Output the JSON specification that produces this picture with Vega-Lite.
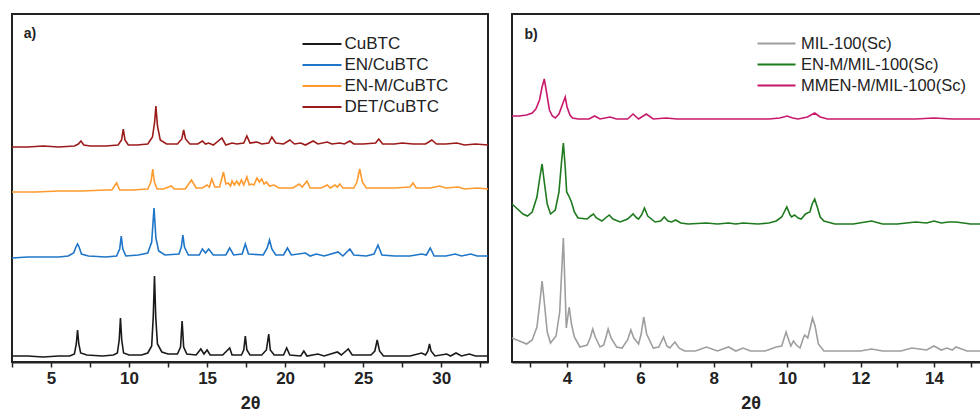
{
  "$schema": "https://vega.github.io/schema/vega-lite/v6.json",
  "padding": {"left": 10, "top": 13, "right": 0, "bottom": 0},
  "config": {
    "font": "Liberation Sans",
    "view": {"stroke": "#222", "strokeWidth": 2},
    "concat": {"spacing": 22},
    "axis": {"grid": false, "domainColor": "#222", "domainWidth": 2, "tickColor": "#222", "tickWidth": 1.5, "tickSize": 5, "labelFont": "Liberation Sans", "labelFontWeight": "bold", "labelFontSize": 17, "labelColor": "#222", "labelPadding": 3, "titleFont": "Liberation Sans", "titleFontWeight": "bold", "titleFontSize": 18, "titleColor": "#222", "titlePadding": 8},
    "legend": {"orient": "none", "padding": 0, "symbolType": "M-2,0H2", "symbolStrokeWidth": 2, "labelFont": "Liberation Sans", "labelColor": "#222", "rowPadding": 2, "labelLimit": 300}
  },
  "datasets": {
    "a": [
      {"s":"CuBTC","x":2.5,"y":6},{"s":"CuBTC","x":3.5,"y":6},{"s":"CuBTC","x":4.5,"y":5},{"s":"CuBTC","x":5.5,"y":6},{"s":"CuBTC","x":6.2,"y":6},{"s":"CuBTC","x":6.5,"y":8},{"s":"CuBTC","x":6.62,"y":18},{"s":"CuBTC","x":6.7,"y":32},{"s":"CuBTC","x":6.78,"y":18},{"s":"CuBTC","x":6.9,"y":9},{"s":"CuBTC","x":7.3,"y":7},{"s":"CuBTC","x":8.3,"y":6},{"s":"CuBTC","x":9.0,"y":7},{"s":"CuBTC","x":9.25,"y":9},{"s":"CuBTC","x":9.37,"y":22},{"s":"CuBTC","x":9.45,"y":44},{"s":"CuBTC","x":9.53,"y":22},{"s":"CuBTC","x":9.65,"y":9},{"s":"CuBTC","x":10.0,"y":7},{"s":"CuBTC","x":10.8,"y":7},{"s":"CuBTC","x":11.2,"y":9},{"s":"CuBTC","x":11.45,"y":16},{"s":"CuBTC","x":11.55,"y":45},{"s":"CuBTC","x":11.63,"y":86},{"s":"CuBTC","x":11.71,"y":45},{"s":"CuBTC","x":11.82,"y":18},{"s":"CuBTC","x":12.1,"y":10},{"s":"CuBTC","x":12.5,"y":8},{"s":"CuBTC","x":13.1,"y":8},{"s":"CuBTC","x":13.3,"y":15},{"s":"CuBTC","x":13.4,"y":41},{"s":"CuBTC","x":13.5,"y":15},{"s":"CuBTC","x":13.7,"y":8},{"s":"CuBTC","x":14.3,"y":7},{"s":"CuBTC","x":14.6,"y":13},{"s":"CuBTC","x":14.8,"y":8},{"s":"CuBTC","x":15.0,"y":12},{"s":"CuBTC","x":15.2,"y":7},{"s":"CuBTC","x":16.0,"y":7},{"s":"CuBTC","x":16.45,"y":14},{"s":"CuBTC","x":16.6,"y":7},{"s":"CuBTC","x":17.2,"y":7},{"s":"CuBTC","x":17.35,"y":12},{"s":"CuBTC","x":17.45,"y":26},{"s":"CuBTC","x":17.55,"y":12},{"s":"CuBTC","x":17.75,"y":7},{"s":"CuBTC","x":18.5,"y":7},{"s":"CuBTC","x":18.8,"y":12},{"s":"CuBTC","x":18.95,"y":28},{"s":"CuBTC","x":19.05,"y":12},{"s":"CuBTC","x":19.3,"y":7},{"s":"CuBTC","x":19.9,"y":7},{"s":"CuBTC","x":20.1,"y":14},{"s":"CuBTC","x":20.3,"y":7},{"s":"CuBTC","x":21.0,"y":6},{"s":"CuBTC","x":21.2,"y":11},{"s":"CuBTC","x":21.4,"y":6},{"s":"CuBTC","x":22.1,"y":8},{"s":"CuBTC","x":22.5,"y":6},{"s":"CuBTC","x":23.35,"y":10},{"s":"CuBTC","x":23.6,"y":7},{"s":"CuBTC","x":24.05,"y":13},{"s":"CuBTC","x":24.3,"y":7},{"s":"CuBTC","x":25.0,"y":7},{"s":"CuBTC","x":25.5,"y":7},{"s":"CuBTC","x":25.75,"y":11},{"s":"CuBTC","x":25.9,"y":22},{"s":"CuBTC","x":26.05,"y":11},{"s":"CuBTC","x":26.3,"y":6},{"s":"CuBTC","x":27.0,"y":6},{"s":"CuBTC","x":28.0,"y":6},{"s":"CuBTC","x":28.75,"y":9},{"s":"CuBTC","x":29.0,"y":7},{"s":"CuBTC","x":29.15,"y":11},{"s":"CuBTC","x":29.25,"y":18},{"s":"CuBTC","x":29.35,"y":11},{"s":"CuBTC","x":29.6,"y":6},{"s":"CuBTC","x":30.35,"y":8},{"s":"CuBTC","x":30.6,"y":6},{"s":"CuBTC","x":30.95,"y":9},{"s":"CuBTC","x":31.3,"y":6},{"s":"CuBTC","x":31.8,"y":8},{"s":"CuBTC","x":32.2,"y":6},{"s":"CuBTC","x":33,"y":6},

      {"s":"EN/CuBTC","x":2.5,"y":104},{"s":"EN/CuBTC","x":3.5,"y":105},{"s":"EN/CuBTC","x":4.5,"y":105},{"s":"EN/CuBTC","x":5.5,"y":105},{"s":"EN/CuBTC","x":6.1,"y":106},{"s":"EN/CuBTC","x":6.45,"y":109},{"s":"EN/CuBTC","x":6.6,"y":115},{"s":"EN/CuBTC","x":6.7,"y":118},{"s":"EN/CuBTC","x":6.8,"y":115},{"s":"EN/CuBTC","x":6.95,"y":108},{"s":"EN/CuBTC","x":7.4,"y":106},{"s":"EN/CuBTC","x":8.5,"y":105},{"s":"EN/CuBTC","x":9.2,"y":106},{"s":"EN/CuBTC","x":9.4,"y":113},{"s":"EN/CuBTC","x":9.5,"y":126},{"s":"EN/CuBTC","x":9.6,"y":113},{"s":"EN/CuBTC","x":9.8,"y":106},{"s":"EN/CuBTC","x":10.6,"y":107},{"s":"EN/CuBTC","x":11.2,"y":109},{"s":"EN/CuBTC","x":11.45,"y":120},{"s":"EN/CuBTC","x":11.6,"y":154},{"s":"EN/CuBTC","x":11.72,"y":124},{"s":"EN/CuBTC","x":11.9,"y":111},{"s":"EN/CuBTC","x":12.3,"y":107},{"s":"EN/CuBTC","x":13.2,"y":108},{"s":"EN/CuBTC","x":13.35,"y":115},{"s":"EN/CuBTC","x":13.45,"y":127},{"s":"EN/CuBTC","x":13.55,"y":115},{"s":"EN/CuBTC","x":13.8,"y":107},{"s":"EN/CuBTC","x":14.5,"y":107},{"s":"EN/CuBTC","x":14.7,"y":113},{"s":"EN/CuBTC","x":14.9,"y":109},{"s":"EN/CuBTC","x":15.1,"y":113},{"s":"EN/CuBTC","x":15.4,"y":107},{"s":"EN/CuBTC","x":16.2,"y":107},{"s":"EN/CuBTC","x":16.45,"y":114},{"s":"EN/CuBTC","x":16.7,"y":107},{"s":"EN/CuBTC","x":17.25,"y":108},{"s":"EN/CuBTC","x":17.45,"y":118},{"s":"EN/CuBTC","x":17.65,"y":108},{"s":"EN/CuBTC","x":18.6,"y":107},{"s":"EN/CuBTC","x":18.85,"y":114},{"s":"EN/CuBTC","x":19.0,"y":122},{"s":"EN/CuBTC","x":19.15,"y":113},{"s":"EN/CuBTC","x":19.4,"y":107},{"s":"EN/CuBTC","x":19.9,"y":107},{"s":"EN/CuBTC","x":20.15,"y":114},{"s":"EN/CuBTC","x":20.4,"y":107},{"s":"EN/CuBTC","x":21.3,"y":109},{"s":"EN/CuBTC","x":21.6,"y":106},{"s":"EN/CuBTC","x":22.0,"y":108},{"s":"EN/CuBTC","x":22.5,"y":106},{"s":"EN/CuBTC","x":23.4,"y":110},{"s":"EN/CuBTC","x":23.7,"y":106},{"s":"EN/CuBTC","x":24.15,"y":113},{"s":"EN/CuBTC","x":24.4,"y":107},{"s":"EN/CuBTC","x":25.2,"y":106},{"s":"EN/CuBTC","x":25.7,"y":108},{"s":"EN/CuBTC","x":25.95,"y":117},{"s":"EN/CuBTC","x":26.2,"y":107},{"s":"EN/CuBTC","x":27.0,"y":106},{"s":"EN/CuBTC","x":28.0,"y":106},{"s":"EN/CuBTC","x":28.75,"y":108},{"s":"EN/CuBTC","x":29.05,"y":107},{"s":"EN/CuBTC","x":29.3,"y":114},{"s":"EN/CuBTC","x":29.55,"y":106},{"s":"EN/CuBTC","x":30.3,"y":106},{"s":"EN/CuBTC","x":30.9,"y":108},{"s":"EN/CuBTC","x":31.3,"y":106},{"s":"EN/CuBTC","x":31.9,"y":108},{"s":"EN/CuBTC","x":32.3,"y":106},{"s":"EN/CuBTC","x":33,"y":106},

      {"s":"EN-M/CuBTC","x":2.5,"y":170},{"s":"EN-M/CuBTC","x":4,"y":170},{"s":"EN-M/CuBTC","x":5.5,"y":171},{"s":"EN-M/CuBTC","x":7,"y":171},{"s":"EN-M/CuBTC","x":8.5,"y":172},{"s":"EN-M/CuBTC","x":8.9,"y":172},{"s":"EN-M/CuBTC","x":9.2,"y":179},{"s":"EN-M/CuBTC","x":9.4,"y":172},{"s":"EN-M/CuBTC","x":10.2,"y":172},{"s":"EN-M/CuBTC","x":11.2,"y":173},{"s":"EN-M/CuBTC","x":11.4,"y":180},{"s":"EN-M/CuBTC","x":11.52,"y":193},{"s":"EN-M/CuBTC","x":11.62,"y":180},{"s":"EN-M/CuBTC","x":11.8,"y":173},{"s":"EN-M/CuBTC","x":12.2,"y":173},{"s":"EN-M/CuBTC","x":12.7,"y":176},{"s":"EN-M/CuBTC","x":12.9,"y":173},{"s":"EN-M/CuBTC","x":13.6,"y":173},{"s":"EN-M/CuBTC","x":14.0,"y":182},{"s":"EN-M/CuBTC","x":14.3,"y":174},{"s":"EN-M/CuBTC","x":14.7,"y":174},{"s":"EN-M/CuBTC","x":15.0,"y":177},{"s":"EN-M/CuBTC","x":15.15,"y":175},{"s":"EN-M/CuBTC","x":15.3,"y":183},{"s":"EN-M/CuBTC","x":15.5,"y":175},{"s":"EN-M/CuBTC","x":15.8,"y":175},{"s":"EN-M/CuBTC","x":16.05,"y":190},{"s":"EN-M/CuBTC","x":16.2,"y":178},{"s":"EN-M/CuBTC","x":16.35,"y":179},{"s":"EN-M/CuBTC","x":16.5,"y":176},{"s":"EN-M/CuBTC","x":16.6,"y":181},{"s":"EN-M/CuBTC","x":16.75,"y":177},{"s":"EN-M/CuBTC","x":16.9,"y":181},{"s":"EN-M/CuBTC","x":17.05,"y":177},{"s":"EN-M/CuBTC","x":17.2,"y":182},{"s":"EN-M/CuBTC","x":17.35,"y":177},{"s":"EN-M/CuBTC","x":17.55,"y":185},{"s":"EN-M/CuBTC","x":17.7,"y":177},{"s":"EN-M/CuBTC","x":17.85,"y":178},{"s":"EN-M/CuBTC","x":18.0,"y":177},{"s":"EN-M/CuBTC","x":18.2,"y":184},{"s":"EN-M/CuBTC","x":18.35,"y":180},{"s":"EN-M/CuBTC","x":18.5,"y":183},{"s":"EN-M/CuBTC","x":18.65,"y":178},{"s":"EN-M/CuBTC","x":18.8,"y":180},{"s":"EN-M/CuBTC","x":19.0,"y":176},{"s":"EN-M/CuBTC","x":19.3,"y":177},{"s":"EN-M/CuBTC","x":19.6,"y":174},{"s":"EN-M/CuBTC","x":20.5,"y":174},{"s":"EN-M/CuBTC","x":20.9,"y":178},{"s":"EN-M/CuBTC","x":21.1,"y":175},{"s":"EN-M/CuBTC","x":21.4,"y":181},{"s":"EN-M/CuBTC","x":21.6,"y":174},{"s":"EN-M/CuBTC","x":22.3,"y":174},{"s":"EN-M/CuBTC","x":22.7,"y":177},{"s":"EN-M/CuBTC","x":22.9,"y":174},{"s":"EN-M/CuBTC","x":23.2,"y":177},{"s":"EN-M/CuBTC","x":23.35,"y":175},{"s":"EN-M/CuBTC","x":23.5,"y":178},{"s":"EN-M/CuBTC","x":23.7,"y":174},{"s":"EN-M/CuBTC","x":24.4,"y":174},{"s":"EN-M/CuBTC","x":24.6,"y":180},{"s":"EN-M/CuBTC","x":24.78,"y":193},{"s":"EN-M/CuBTC","x":24.95,"y":180},{"s":"EN-M/CuBTC","x":25.2,"y":174},{"s":"EN-M/CuBTC","x":26.0,"y":174},{"s":"EN-M/CuBTC","x":27.0,"y":174},{"s":"EN-M/CuBTC","x":28.0,"y":175},{"s":"EN-M/CuBTC","x":28.2,"y":179},{"s":"EN-M/CuBTC","x":28.4,"y":174},{"s":"EN-M/CuBTC","x":29.3,"y":174},{"s":"EN-M/CuBTC","x":29.9,"y":176},{"s":"EN-M/CuBTC","x":30.3,"y":174},{"s":"EN-M/CuBTC","x":31.1,"y":175},{"s":"EN-M/CuBTC","x":31.5,"y":173},{"s":"EN-M/CuBTC","x":32.3,"y":174},{"s":"EN-M/CuBTC","x":33,"y":173},

      {"s":"DET/CuBTC","x":2.5,"y":215},{"s":"DET/CuBTC","x":3.5,"y":215},{"s":"DET/CuBTC","x":4.5,"y":216},{"s":"DET/CuBTC","x":5.5,"y":215},{"s":"DET/CuBTC","x":6.5,"y":216},{"s":"DET/CuBTC","x":6.75,"y":218},{"s":"DET/CuBTC","x":6.92,"y":221},{"s":"DET/CuBTC","x":7.1,"y":217},{"s":"DET/CuBTC","x":7.5,"y":216},{"s":"DET/CuBTC","x":8.5,"y":216},{"s":"DET/CuBTC","x":9.3,"y":217},{"s":"DET/CuBTC","x":9.52,"y":222},{"s":"DET/CuBTC","x":9.63,"y":233},{"s":"DET/CuBTC","x":9.74,"y":222},{"s":"DET/CuBTC","x":9.95,"y":217},{"s":"DET/CuBTC","x":10.5,"y":217},{"s":"DET/CuBTC","x":11.2,"y":218},{"s":"DET/CuBTC","x":11.5,"y":225},{"s":"DET/CuBTC","x":11.64,"y":240},{"s":"DET/CuBTC","x":11.72,"y":256},{"s":"DET/CuBTC","x":11.82,"y":236},{"s":"DET/CuBTC","x":12.0,"y":222},{"s":"DET/CuBTC","x":12.4,"y":218},{"s":"DET/CuBTC","x":13.1,"y":218},{"s":"DET/CuBTC","x":13.38,"y":223},{"s":"DET/CuBTC","x":13.5,"y":232},{"s":"DET/CuBTC","x":13.62,"y":223},{"s":"DET/CuBTC","x":13.9,"y":218},{"s":"DET/CuBTC","x":14.4,"y":218},{"s":"DET/CuBTC","x":14.7,"y":221},{"s":"DET/CuBTC","x":14.9,"y":218},{"s":"DET/CuBTC","x":15.1,"y":219},{"s":"DET/CuBTC","x":15.4,"y":217},{"s":"DET/CuBTC","x":15.95,"y":224},{"s":"DET/CuBTC","x":16.2,"y":217},{"s":"DET/CuBTC","x":16.6,"y":219},{"s":"DET/CuBTC","x":16.9,"y":218},{"s":"DET/CuBTC","x":17.35,"y":219},{"s":"DET/CuBTC","x":17.55,"y":226},{"s":"DET/CuBTC","x":17.75,"y":219},{"s":"DET/CuBTC","x":18.2,"y":220},{"s":"DET/CuBTC","x":18.5,"y":218},{"s":"DET/CuBTC","x":18.95,"y":219},{"s":"DET/CuBTC","x":19.15,"y":225},{"s":"DET/CuBTC","x":19.4,"y":219},{"s":"DET/CuBTC","x":19.9,"y":218},{"s":"DET/CuBTC","x":20.3,"y":222},{"s":"DET/CuBTC","x":20.6,"y":218},{"s":"DET/CuBTC","x":21.0,"y":219},{"s":"DET/CuBTC","x":21.3,"y":217},{"s":"DET/CuBTC","x":21.8,"y":221},{"s":"DET/CuBTC","x":22.1,"y":218},{"s":"DET/CuBTC","x":22.7,"y":220},{"s":"DET/CuBTC","x":23.0,"y":218},{"s":"DET/CuBTC","x":23.5,"y":219},{"s":"DET/CuBTC","x":23.8,"y":218},{"s":"DET/CuBTC","x":24.15,"y":221},{"s":"DET/CuBTC","x":24.4,"y":218},{"s":"DET/CuBTC","x":25.0,"y":218},{"s":"DET/CuBTC","x":25.8,"y":219},{"s":"DET/CuBTC","x":26.0,"y":223},{"s":"DET/CuBTC","x":26.25,"y":218},{"s":"DET/CuBTC","x":27.0,"y":218},{"s":"DET/CuBTC","x":27.5,"y":219},{"s":"DET/CuBTC","x":28.2,"y":218},{"s":"DET/CuBTC","x":29.0,"y":218},{"s":"DET/CuBTC","x":29.4,"y":222},{"s":"DET/CuBTC","x":29.7,"y":218},{"s":"DET/CuBTC","x":30.3,"y":218},{"s":"DET/CuBTC","x":31.0,"y":219},{"s":"DET/CuBTC","x":31.5,"y":217},{"s":"DET/CuBTC","x":32.2,"y":218},{"s":"DET/CuBTC","x":33,"y":217}
    ],
    "b": [
      {"s":"MIL-100(Sc)","x":2.5,"y":24},{"s":"MIL-100(Sc)","x":2.7,"y":21},{"s":"MIL-100(Sc)","x":2.9,"y":18},{"s":"MIL-100(Sc)","x":3.05,"y":22},{"s":"MIL-100(Sc)","x":3.18,"y":35},{"s":"MIL-100(Sc)","x":3.26,"y":60},{"s":"MIL-100(Sc)","x":3.32,"y":81},{"s":"MIL-100(Sc)","x":3.38,"y":60},{"s":"MIL-100(Sc)","x":3.46,"y":30},{"s":"MIL-100(Sc)","x":3.55,"y":19},{"s":"MIL-100(Sc)","x":3.7,"y":26},{"s":"MIL-100(Sc)","x":3.8,"y":50},{"s":"MIL-100(Sc)","x":3.86,"y":95},{"s":"MIL-100(Sc)","x":3.9,"y":124},{"s":"MIL-100(Sc)","x":3.94,"y":80},{"s":"MIL-100(Sc)","x":3.98,"y":34},{"s":"MIL-100(Sc)","x":4.02,"y":45},{"s":"MIL-100(Sc)","x":4.06,"y":55},{"s":"MIL-100(Sc)","x":4.12,"y":38},{"s":"MIL-100(Sc)","x":4.2,"y":25},{"s":"MIL-100(Sc)","x":4.35,"y":15},{"s":"MIL-100(Sc)","x":4.55,"y":17},{"s":"MIL-100(Sc)","x":4.64,"y":25},{"s":"MIL-100(Sc)","x":4.7,"y":33},{"s":"MIL-100(Sc)","x":4.77,"y":25},{"s":"MIL-100(Sc)","x":4.9,"y":15},{"s":"MIL-100(Sc)","x":5.0,"y":17},{"s":"MIL-100(Sc)","x":5.07,"y":26},{"s":"MIL-100(Sc)","x":5.12,"y":33},{"s":"MIL-100(Sc)","x":5.2,"y":24},{"s":"MIL-100(Sc)","x":5.35,"y":15},{"s":"MIL-100(Sc)","x":5.5,"y":14},{"s":"MIL-100(Sc)","x":5.65,"y":22},{"s":"MIL-100(Sc)","x":5.74,"y":32},{"s":"MIL-100(Sc)","x":5.82,"y":24},{"s":"MIL-100(Sc)","x":5.95,"y":18},{"s":"MIL-100(Sc)","x":6.02,"y":28},{"s":"MIL-100(Sc)","x":6.09,"y":45},{"s":"MIL-100(Sc)","x":6.17,"y":28},{"s":"MIL-100(Sc)","x":6.35,"y":14},{"s":"MIL-100(Sc)","x":6.5,"y":15},{"s":"MIL-100(Sc)","x":6.63,"y":25},{"s":"MIL-100(Sc)","x":6.72,"y":16},{"s":"MIL-100(Sc)","x":6.8,"y":14},{"s":"MIL-100(Sc)","x":6.94,"y":20},{"s":"MIL-100(Sc)","x":7.05,"y":14},{"s":"MIL-100(Sc)","x":7.2,"y":11},{"s":"MIL-100(Sc)","x":7.5,"y":11},{"s":"MIL-100(Sc)","x":7.8,"y":15},{"s":"MIL-100(Sc)","x":8.1,"y":11},{"s":"MIL-100(Sc)","x":8.4,"y":15},{"s":"MIL-100(Sc)","x":8.6,"y":11},{"s":"MIL-100(Sc)","x":8.8,"y":14},{"s":"MIL-100(Sc)","x":9.0,"y":11},{"s":"MIL-100(Sc)","x":9.4,"y":11},{"s":"MIL-100(Sc)","x":9.7,"y":15},{"s":"MIL-100(Sc)","x":9.85,"y":16},{"s":"MIL-100(Sc)","x":9.97,"y":30},{"s":"MIL-100(Sc)","x":10.06,"y":20},{"s":"MIL-100(Sc)","x":10.1,"y":16},{"s":"MIL-100(Sc)","x":10.17,"y":21},{"s":"MIL-100(Sc)","x":10.25,"y":17},{"s":"MIL-100(Sc)","x":10.35,"y":14},{"s":"MIL-100(Sc)","x":10.45,"y":25},{"s":"MIL-100(Sc)","x":10.48,"y":27},{"s":"MIL-100(Sc)","x":10.56,"y":24},{"s":"MIL-100(Sc)","x":10.64,"y":36},{"s":"MIL-100(Sc)","x":10.69,"y":44},{"s":"MIL-100(Sc)","x":10.76,"y":36},{"s":"MIL-100(Sc)","x":10.85,"y":18},{"s":"MIL-100(Sc)","x":11.0,"y":11},{"s":"MIL-100(Sc)","x":11.5,"y":11},{"s":"MIL-100(Sc)","x":12.0,"y":11},{"s":"MIL-100(Sc)","x":12.3,"y":13},{"s":"MIL-100(Sc)","x":12.6,"y":11},{"s":"MIL-100(Sc)","x":13.1,"y":11},{"s":"MIL-100(Sc)","x":13.4,"y":14},{"s":"MIL-100(Sc)","x":13.6,"y":13},{"s":"MIL-100(Sc)","x":13.8,"y":12},{"s":"MIL-100(Sc)","x":14.0,"y":16},{"s":"MIL-100(Sc)","x":14.2,"y":12},{"s":"MIL-100(Sc)","x":14.35,"y":14},{"s":"MIL-100(Sc)","x":14.5,"y":12},{"s":"MIL-100(Sc)","x":14.6,"y":15},{"s":"MIL-100(Sc)","x":14.9,"y":11},{"s":"MIL-100(Sc)","x":15.5,"y":11},

      {"s":"EN-M/MIL-100(Sc)","x":2.5,"y":158},{"s":"EN-M/MIL-100(Sc)","x":2.65,"y":153},{"s":"EN-M/MIL-100(Sc)","x":2.8,"y":148},{"s":"EN-M/MIL-100(Sc)","x":2.92,"y":146},{"s":"EN-M/MIL-100(Sc)","x":3.05,"y":150},{"s":"EN-M/MIL-100(Sc)","x":3.18,"y":165},{"s":"EN-M/MIL-100(Sc)","x":3.26,"y":185},{"s":"EN-M/MIL-100(Sc)","x":3.32,"y":198},{"s":"EN-M/MIL-100(Sc)","x":3.38,"y":180},{"s":"EN-M/MIL-100(Sc)","x":3.46,"y":158},{"s":"EN-M/MIL-100(Sc)","x":3.55,"y":148},{"s":"EN-M/MIL-100(Sc)","x":3.68,"y":152},{"s":"EN-M/MIL-100(Sc)","x":3.78,"y":170},{"s":"EN-M/MIL-100(Sc)","x":3.85,"y":200},{"s":"EN-M/MIL-100(Sc)","x":3.9,"y":219},{"s":"EN-M/MIL-100(Sc)","x":3.95,"y":195},{"s":"EN-M/MIL-100(Sc)","x":3.99,"y":170},{"s":"EN-M/MIL-100(Sc)","x":4.05,"y":166},{"s":"EN-M/MIL-100(Sc)","x":4.12,"y":160},{"s":"EN-M/MIL-100(Sc)","x":4.2,"y":150},{"s":"EN-M/MIL-100(Sc)","x":4.3,"y":144},{"s":"EN-M/MIL-100(Sc)","x":4.55,"y":143},{"s":"EN-M/MIL-100(Sc)","x":4.64,"y":146},{"s":"EN-M/MIL-100(Sc)","x":4.72,"y":148},{"s":"EN-M/MIL-100(Sc)","x":4.8,"y":144},{"s":"EN-M/MIL-100(Sc)","x":4.95,"y":141},{"s":"EN-M/MIL-100(Sc)","x":5.05,"y":144},{"s":"EN-M/MIL-100(Sc)","x":5.15,"y":147},{"s":"EN-M/MIL-100(Sc)","x":5.25,"y":143},{"s":"EN-M/MIL-100(Sc)","x":5.45,"y":140},{"s":"EN-M/MIL-100(Sc)","x":5.65,"y":143},{"s":"EN-M/MIL-100(Sc)","x":5.8,"y":148},{"s":"EN-M/MIL-100(Sc)","x":5.9,"y":144},{"s":"EN-M/MIL-100(Sc)","x":5.95,"y":143},{"s":"EN-M/MIL-100(Sc)","x":6.03,"y":147},{"s":"EN-M/MIL-100(Sc)","x":6.11,"y":154},{"s":"EN-M/MIL-100(Sc)","x":6.2,"y":146},{"s":"EN-M/MIL-100(Sc)","x":6.4,"y":140},{"s":"EN-M/MIL-100(Sc)","x":6.55,"y":141},{"s":"EN-M/MIL-100(Sc)","x":6.65,"y":145},{"s":"EN-M/MIL-100(Sc)","x":6.75,"y":141},{"s":"EN-M/MIL-100(Sc)","x":6.85,"y":140},{"s":"EN-M/MIL-100(Sc)","x":6.96,"y":142},{"s":"EN-M/MIL-100(Sc)","x":7.1,"y":139},{"s":"EN-M/MIL-100(Sc)","x":7.3,"y":138},{"s":"EN-M/MIL-100(Sc)","x":7.8,"y":139},{"s":"EN-M/MIL-100(Sc)","x":8.1,"y":138},{"s":"EN-M/MIL-100(Sc)","x":8.4,"y":139},{"s":"EN-M/MIL-100(Sc)","x":8.6,"y":138},{"s":"EN-M/MIL-100(Sc)","x":8.8,"y":139},{"s":"EN-M/MIL-100(Sc)","x":9.2,"y":138},{"s":"EN-M/MIL-100(Sc)","x":9.5,"y":139},{"s":"EN-M/MIL-100(Sc)","x":9.7,"y":141},{"s":"EN-M/MIL-100(Sc)","x":9.85,"y":145},{"s":"EN-M/MIL-100(Sc)","x":9.99,"y":155},{"s":"EN-M/MIL-100(Sc)","x":10.08,"y":147},{"s":"EN-M/MIL-100(Sc)","x":10.12,"y":145},{"s":"EN-M/MIL-100(Sc)","x":10.2,"y":147},{"s":"EN-M/MIL-100(Sc)","x":10.3,"y":144},{"s":"EN-M/MIL-100(Sc)","x":10.38,"y":143},{"s":"EN-M/MIL-100(Sc)","x":10.5,"y":148},{"s":"EN-M/MIL-100(Sc)","x":10.55,"y":149},{"s":"EN-M/MIL-100(Sc)","x":10.62,"y":150},{"s":"EN-M/MIL-100(Sc)","x":10.68,"y":158},{"s":"EN-M/MIL-100(Sc)","x":10.75,"y":163},{"s":"EN-M/MIL-100(Sc)","x":10.82,"y":155},{"s":"EN-M/MIL-100(Sc)","x":10.9,"y":145},{"s":"EN-M/MIL-100(Sc)","x":11.0,"y":141},{"s":"EN-M/MIL-100(Sc)","x":11.3,"y":138},{"s":"EN-M/MIL-100(Sc)","x":11.8,"y":138},{"s":"EN-M/MIL-100(Sc)","x":12.3,"y":141},{"s":"EN-M/MIL-100(Sc)","x":12.6,"y":138},{"s":"EN-M/MIL-100(Sc)","x":13.0,"y":138},{"s":"EN-M/MIL-100(Sc)","x":13.5,"y":140},{"s":"EN-M/MIL-100(Sc)","x":13.8,"y":139},{"s":"EN-M/MIL-100(Sc)","x":14.0,"y":141},{"s":"EN-M/MIL-100(Sc)","x":14.2,"y":139},{"s":"EN-M/MIL-100(Sc)","x":14.4,"y":140},{"s":"EN-M/MIL-100(Sc)","x":14.6,"y":140},{"s":"EN-M/MIL-100(Sc)","x":15.0,"y":138},{"s":"EN-M/MIL-100(Sc)","x":15.5,"y":138},

      {"s":"MMEN-M/MIL-100(Sc)","x":2.5,"y":246},{"s":"MMEN-M/MIL-100(Sc)","x":2.7,"y":246},{"s":"MMEN-M/MIL-100(Sc)","x":2.9,"y":247},{"s":"MMEN-M/MIL-100(Sc)","x":3.05,"y":249},{"s":"MMEN-M/MIL-100(Sc)","x":3.15,"y":253},{"s":"MMEN-M/MIL-100(Sc)","x":3.25,"y":262},{"s":"MMEN-M/MIL-100(Sc)","x":3.32,"y":275},{"s":"MMEN-M/MIL-100(Sc)","x":3.38,"y":283},{"s":"MMEN-M/MIL-100(Sc)","x":3.44,"y":270},{"s":"MMEN-M/MIL-100(Sc)","x":3.52,"y":252},{"s":"MMEN-M/MIL-100(Sc)","x":3.6,"y":246},{"s":"MMEN-M/MIL-100(Sc)","x":3.68,"y":244},{"s":"MMEN-M/MIL-100(Sc)","x":3.78,"y":248},{"s":"MMEN-M/MIL-100(Sc)","x":3.86,"y":256},{"s":"MMEN-M/MIL-100(Sc)","x":3.95,"y":265},{"s":"MMEN-M/MIL-100(Sc)","x":4.0,"y":255},{"s":"MMEN-M/MIL-100(Sc)","x":4.08,"y":247},{"s":"MMEN-M/MIL-100(Sc)","x":4.15,"y":244},{"s":"MMEN-M/MIL-100(Sc)","x":4.3,"y":243},{"s":"MMEN-M/MIL-100(Sc)","x":4.6,"y":243},{"s":"MMEN-M/MIL-100(Sc)","x":4.75,"y":246},{"s":"MMEN-M/MIL-100(Sc)","x":4.9,"y":243},{"s":"MMEN-M/MIL-100(Sc)","x":5.17,"y":245},{"s":"MMEN-M/MIL-100(Sc)","x":5.35,"y":243},{"s":"MMEN-M/MIL-100(Sc)","x":5.65,"y":243},{"s":"MMEN-M/MIL-100(Sc)","x":5.8,"y":248},{"s":"MMEN-M/MIL-100(Sc)","x":5.95,"y":243},{"s":"MMEN-M/MIL-100(Sc)","x":6.16,"y":248},{"s":"MMEN-M/MIL-100(Sc)","x":6.35,"y":243},{"s":"MMEN-M/MIL-100(Sc)","x":6.7,"y":244},{"s":"MMEN-M/MIL-100(Sc)","x":7.0,"y":243},{"s":"MMEN-M/MIL-100(Sc)","x":7.5,"y":243},{"s":"MMEN-M/MIL-100(Sc)","x":8.0,"y":243},{"s":"MMEN-M/MIL-100(Sc)","x":8.5,"y":243},{"s":"MMEN-M/MIL-100(Sc)","x":9.0,"y":243},{"s":"MMEN-M/MIL-100(Sc)","x":9.5,"y":243},{"s":"MMEN-M/MIL-100(Sc)","x":9.8,"y":244},{"s":"MMEN-M/MIL-100(Sc)","x":10.0,"y":246},{"s":"MMEN-M/MIL-100(Sc)","x":10.15,"y":244},{"s":"MMEN-M/MIL-100(Sc)","x":10.3,"y":243},{"s":"MMEN-M/MIL-100(Sc)","x":10.55,"y":245},{"s":"MMEN-M/MIL-100(Sc)","x":10.75,"y":249},{"s":"MMEN-M/MIL-100(Sc)","x":10.9,"y":245},{"s":"MMEN-M/MIL-100(Sc)","x":11.1,"y":243},{"s":"MMEN-M/MIL-100(Sc)","x":11.6,"y":243},{"s":"MMEN-M/MIL-100(Sc)","x":12.0,"y":243},{"s":"MMEN-M/MIL-100(Sc)","x":12.5,"y":243},{"s":"MMEN-M/MIL-100(Sc)","x":13.0,"y":243},{"s":"MMEN-M/MIL-100(Sc)","x":13.5,"y":243},{"s":"MMEN-M/MIL-100(Sc)","x":14.0,"y":244},{"s":"MMEN-M/MIL-100(Sc)","x":14.5,"y":243},{"s":"MMEN-M/MIL-100(Sc)","x":15.0,"y":243},{"s":"MMEN-M/MIL-100(Sc)","x":15.5,"y":243}
    ]
  },
  "hconcat": [
    {
      "width": 476, "height": 348,
      "layer": [
        {
          "data": {"name": "a"},
          "mark": {"type": "line", "strokeWidth": 1.6, "clip": true},
          "encoding": {
            "x": {"field": "x", "type": "quantitative", "scale": {"domain": [2.5, 33], "nice": false, "zero": false},
                  "axis": {"title": "2θ", "values": [2.5, 5, 7.5, 10, 12.5, 15, 17.5, 20, 22.5, 25, 27.5, 30, 32.5], "labelExpr": "datum.value % 5 ? '' : datum.label", "labelOverlap": false}},
            "y": {"field": "y", "type": "quantitative", "scale": {"domain": [0, 348], "nice": false, "zero": false}, "axis": null},
            "color": {"field": "s", "type": "nominal",
                      "scale": {"domain": ["CuBTC", "EN/CuBTC", "EN-M/CuBTC", "DET/CuBTC"], "range": ["#1a1a1a", "#1f76c8", "#ff9a2e", "#9b1b1b"]},
                      "legend": {"title": null, "legendX": 299, "legendY": 19, "symbolSize": 380, "labelFontSize": 17, "labelOffset": 11.5}}
          }
        },
        {
          "data": {"values": [{"x": 3.65, "y": 328, "t": "a)"}]},
          "mark": {"type": "text", "fontWeight": "bold", "fontSize": 14, "font": "Liberation Sans", "color": "#222"},
          "encoding": {
            "x": {"field": "x", "type": "quantitative",
                  "axis": {"title": "2θ", "values": [2.5, 5, 7.5, 10, 12.5, 15, 17.5, 20, 22.5, 25, 27.5, 30, 32.5], "labelExpr": "datum.value % 5 ? '' : datum.label", "labelOverlap": false}},
            "y": {"field": "y", "type": "quantitative", "axis": null},
            "text": {"field": "t"}
          }
        }
      ]
    },
    {
      "width": 477, "height": 348,
      "layer": [
        {
          "data": {"name": "b"},
          "mark": {"type": "line", "strokeWidth": 1.6, "clip": true},
          "encoding": {
            "x": {"field": "x", "type": "quantitative", "scale": {"domain": [2.5, 15.5], "nice": false, "zero": false},
                  "axis": {"title": "2θ", "values": [3, 4, 5, 6, 7, 8, 9, 10, 11, 12, 13, 14, 15], "labelExpr": "datum.value % 2 ? '' : datum.label", "labelOverlap": false}},
            "y": {"field": "y", "type": "quantitative", "scale": {"domain": [0, 348], "nice": false, "zero": false}, "axis": null},
            "color": {"field": "s", "type": "nominal",
                      "scale": {"domain": ["MIL-100(Sc)", "EN-M/MIL-100(Sc)", "MMEN-M/MIL-100(Sc)"], "range": ["#9e9e9e", "#1e7a1e", "#c8186c"]},
                      "legend": {"title": null, "legendX": 254, "legendY": 19, "symbolSize": 361, "labelFontSize": 16.5, "labelOffset": 14}}
          }
        },
        {
          "data": {"values": [{"x": 3.02, "y": 327, "t": "b)"}]},
          "mark": {"type": "text", "fontWeight": "bold", "fontSize": 14, "font": "Liberation Sans", "color": "#222"},
          "encoding": {
            "x": {"field": "x", "type": "quantitative",
                  "axis": {"title": "2θ", "values": [3, 4, 5, 6, 7, 8, 9, 10, 11, 12, 13, 14, 15], "labelExpr": "datum.value % 2 ? '' : datum.label", "labelOverlap": false}},
            "y": {"field": "y", "type": "quantitative", "axis": null},
            "text": {"field": "t"}
          }
        }
      ]
    }
  ],
  "resolve": {"scale": {"color": "independent", "x": "independent", "y": "independent"}}
}
